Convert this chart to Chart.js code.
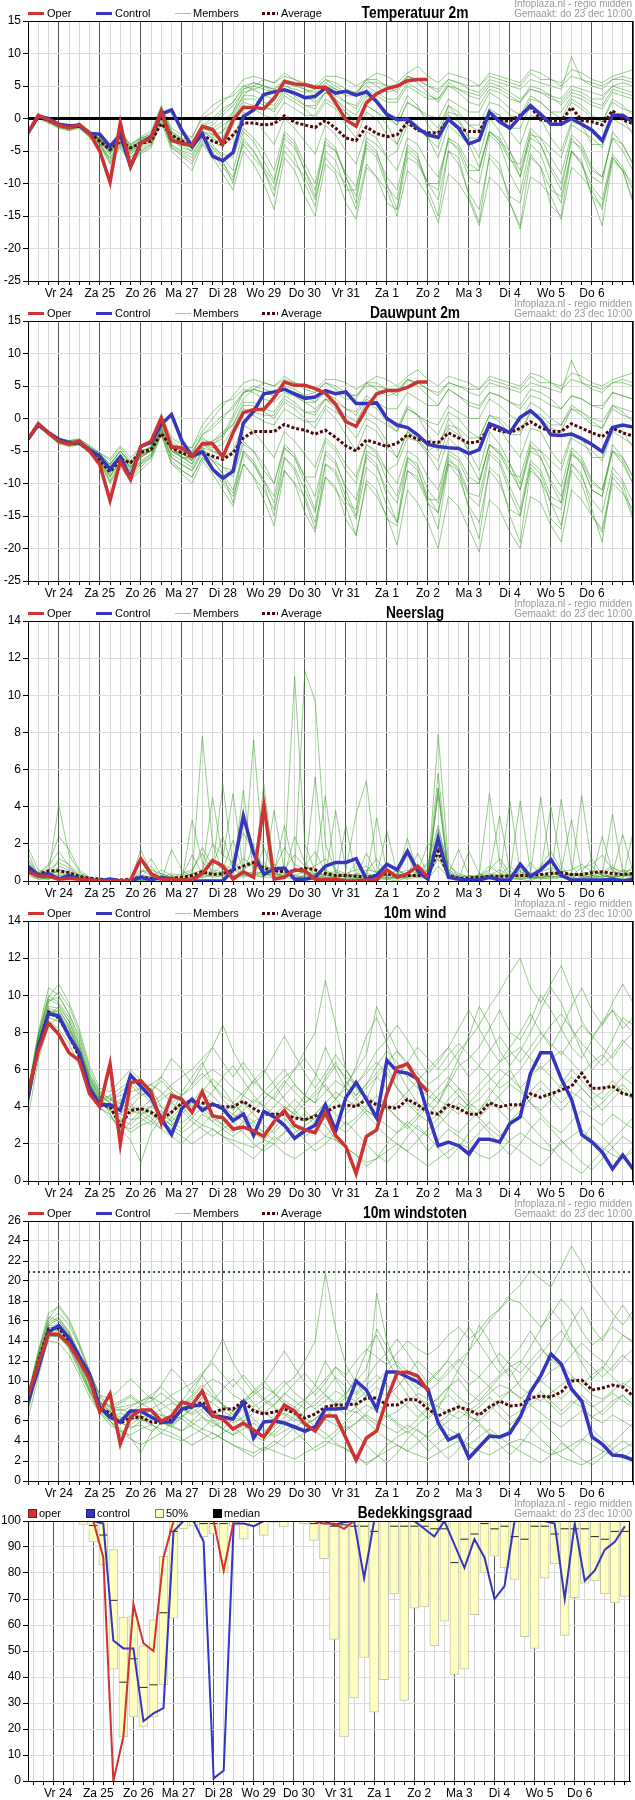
<!DOCTYPE html>
<html>
<head>
<meta charset="utf-8">
<title>Pluim</title>
<script src="https://cdn.jsdelivr.net/npm/chart.js@4.4.1/dist/chart.umd.min.js"></script>
<style>
body { margin: 0; background: #fff; font-family: "Liberation Sans", Arial, sans-serif; }
.panel { position: relative; width: 635px; height: 300px; }
.panel canvas { position: absolute; left: 0; top: 0; }
.sw { position: absolute; }
.lt { position: absolute; top: 6px; font-size: 11px; line-height: 14px; white-space: nowrap; }
.title { position: absolute; top: 5px; left: 415px; transform: translateX(-50%) scaleX(0.86); font-weight: bold; font-size: 16px; line-height: 16px; white-space: nowrap; }
.src { position: absolute; right: 3px; top: -1px; text-align: right; color: #999; font-size: 10px; line-height: 10px; white-space: nowrap; }
</style>
</head>
<body>
<div class="panel" id="p1"><canvas id="c1" width="635" height="300"></canvas></div>
<div class="panel" id="p2"><canvas id="c2" width="635" height="300"></canvas></div>
<div class="panel" id="p3"><canvas id="c3" width="635" height="300"></canvas></div>
<div class="panel" id="p4"><canvas id="c4" width="635" height="300"></canvas></div>
<div class="panel" id="p5"><canvas id="c5" width="635" height="300"></canvas></div>
<div class="panel" id="p6"><canvas id="c6" width="635" height="300"></canvas></div>

<script>
// AXIS / TIME

const dayLabels = ["Vr 24", "Za 25", "Zo 26", "Ma 27", "Di 28", "Wo 29", "Do 30", "Vr 31", "Za 1", "Zo 2", "Ma 3", "Di 4", "Wo 5", "Do 6"];
const stepH = 6;              // hours between values
const xStart = 6, xEnd = 360; // hours after do 23 dec 00:00
const cloudStart = 9, cloudEnd = 363;
const gustLimit = 20.9;

// TEMPERATUUR 2M

const tempOper = [-2.2,0.5,-0.2,-1.0, -1.4,-0.9,-2.3,-5.0, -9.8,-0.7,-7.4,-3.8, -3.0,1.1,-3.4,-3.8, -4.1,-1.2,-1.7,-3.9, -0.2,1.7,1.7,1.5, 3.1,5.7,5.3,5.2, 4.8,4.8,2.4,-0.2, -1.2,2.4,3.8,4.6, 5.0,5.8,6.0,6.0,
  null,null,null,null, null,null,null,null, null,null,null,null, null,null,null,null, null,null,null,null];
const tempControl = [-2.2,0.3,0.0,-0.9, -1.1,-1.1,-2.3,-2.4, -4.3,-2.5,-7.4,-3.8, -2.8,0.7,1.3,-1.8, -4.3,-2.4,-5.8,-6.5, -5.2,0.3,1.3,3.7, 4.1,4.4,3.9,3.2, 3.4,4.7,3.9,4.2, 3.6,4.1,2.6,0.6, -0.2,-0.1,-1.5,-2.5, -2.9,-0.1,-1.5,-3.9, -3.3,1.0,-0.5,-1.5, 0.3,2.0,0.6,-0.9, -0.9,0.0,-0.9,-1.8, -3.4,0.5,0.5,-0.6];
const tempAvg = [-2.2,0.3,-0.3,-1.0, -1.3,-1.2,-2.2,-3.5, -4.8,-3.5,-4.5,-3.8, -3.5,-0.8,-2.5,-3.5, -4.0,-2.5,-3.5,-4.0, -2.5,-0.7,-0.7,-1.0, -0.8,0.4,-0.6,-1.0, -1.4,-0.3,-1.5,-3.0, -3.4,-1.3,-2.3,-2.8, -2.5,-0.6,-1.8,-2.2, -2.2,-0.2,-1.5,-2.0, -2.0,0.8,-0.3,-0.4, 0.5,1.8,-0.2,-0.4, -0.4,1.7,-0.3,-0.5, -1.0,1.2,-0.2,-0.8];
const tempMembers = [
  [-2.0,0.6,-0.2,-0.9, -1.2,-0.8,-2.0,-3.0, -4.5,-2.0,-4.0,-3.0, -2.5,1.8,-2.0,-3.0, -3.5,-1.0,-2.5,-3.0, 0.5,3.5,5.0,6.0, 5.5,6.5,6.0,5.5, 5.0,6.5,6.5,6.0, 5.0,6.0,7.0,6.5, 5.5,7.0,8.0,6.5, 5.5,7.0,6.5,6.0, 5.0,6.5,6.0,5.5, 5.0,7.0,6.0,6.0, 5.5,7.5,7.0,6.0, 5.5,6.5,7.0,7.5],
  [-2.1,0.4,-0.1,-1.0, -1.3,-1.1,-2.2,-3.2, -5.0,-2.5,-4.5,-3.5, -3.0,1.0,-2.5,-3.5, -4.0,-1.5,-1.0,0.5, 2.0,4.0,4.5,5.0, 4.0,5.5,5.0,4.5, 4.0,5.5,4.5,4.0, 3.5,5.0,4.0,3.0, 3.0,5.5,4.5,3.5, 3.0,5.0,4.5,4.0, 3.5,5.5,5.0,4.0, 3.0,4.5,4.0,3.5, 3.0,5.0,4.5,4.0, 3.5,5.0,5.5,5.0],
  [-2.3,0.2,-0.4,-1.2, -1.5,-1.0,-2.4,-3.5, -5.5,-3.0,-5.0,-4.0, -3.0,0.5,-3.0,-4.0, -4.5,-2.0,-3.0,-2.0, 1.0,4.5,5.5,5.0, 4.5,5.5,4.0,3.5, 2.5,4.0,3.0,1.0, -1.0,2.0,1.0,-1.0, -4.0,0.0,-1.5,-3.0, -6.0,-1.0,-2.5,-4.0, -7.5,-2.0,-3.5,-5.0, -8.0,-2.5,-3.0,-4.5, -6.0,-1.0,-2.0,-3.0, -4.5,0.0,-1.0,-2.0],
  [-2.4,0.1,-0.6,-1.3, -1.8,-1.2,-2.6,-3.8, -6.0,-3.5,-6.5,-5.0, -4.0,0.0,-4.5,-5.5, -6.5,-3.5,-5.0,-7.0, -9.0,-4.0,-6.0,-8.0, -11.0,-5.0,-7.0,-9.0, -12.5,-6.0,-8.0,-10.0, -14.0,-7.0,-9.0,-11.0, -15.0,-8.0,-9.5,-12.0, -16.0,-8.5,-10.0,-12.5, -16.5,-9.0,-10.5,-13.0, -17.0,-9.0,-10.0,-12.0, -15.5,-7.5,-9.0,-11.0, -14.0,-6.0,-8.0,-10.0],
  [-2.2,0.3,-0.3,-1.1, -1.4,-0.9,-2.3,-3.4, -5.2,-3.2,-4.8,-3.2, -2.8,0.8,-3.5,-4.2, -4.2,-2.5,-3.5,-4.5, -1.0,2.0,1.5,0.5, 0.0,2.5,1.5,0.5, 0.5,3.0,2.0,1.0, -0.5,2.0,1.0,0.0, -1.0,2.5,1.5,0.5, 0.0,3.0,2.0,1.0, 1.0,4.0,3.0,1.5, 0.5,3.5,2.5,1.0, 0.0,3.0,2.0,0.5, -0.5,2.5,1.5,1.0],
  [-2.3,0.2,-0.5,-1.4, -1.6,-1.4,-2.8,-4.0, -6.5,-4.0,-6.0,-4.5, -3.5,0.5,-4.0,-5.0, -5.5,-3.0,-4.0,-6.0, -8.0,-2.0,-3.5,-6.5, -9.5,-3.0,-4.5,-8.0, -11.0,-4.0,-5.0,-9.0, -12.0,-4.5,-6.0,-10.5, -12.5,-5.0,-6.5,-10.0, -11.0,-3.0,-5.0,-9.0, -10.0,-2.5,-4.0,-8.5, -11.5,-4.0,-5.5,-10.0, -13.0,-5.0,-7.0,-12.0, -13.5,-6.0,-8.0,-12.5],
  [-2.1,0.5,-0.2,-1.0, -1.1,-1.3,-2.5,-3.6, -4.8,-2.8,-5.5,-4.2, -3.2,1.2,-3.2,-4.5, -5.0,-2.0,-3.0,-4.0, -3.0,1.0,0.0,-2.0, -4.0,0.0,-1.5,-3.5, -5.5,-1.0,-2.5,-5.0, -7.0,-2.0,-3.0,-6.0, -8.0,-3.0,-4.0,-7.0, -9.0,-3.5,-4.5,-8.0, -8.0,-2.0,-3.5,-6.5, -7.0,-1.5,-3.0,-6.0, -8.5,-2.5,-4.0,-7.5, -9.0,-3.0,-5.0,-8.0],
  [-2.2,0.4,-0.2,-0.8, -1.0,-0.7,-1.8,-2.8, -4.0,-2.2,-4.2,-2.8, -2.0,2.0,-1.5,-2.5, -2.8,0.0,1.0,2.5, 4.0,6.0,6.5,6.0, 5.5,7.0,6.0,5.0, 4.5,6.0,5.0,4.0, 4.0,5.5,5.5,5.0, 5.0,6.5,6.0,5.0, 4.5,6.0,5.5,5.0, 5.0,7.0,6.5,6.0, 5.5,7.5,7.0,6.0, 5.0,6.5,6.0,5.5, 5.0,6.0,6.0,5.5],
  [-2.3,0.3,-0.4,-1.2, -1.5,-1.2,-2.4,-3.4, -5.5,-3.0,-5.5,-3.8, -3.0,1.0,-2.8,-3.8, -4.0,-1.0,0.0,1.5, 2.5,5.0,5.5,5.0, 4.5,6.0,5.5,4.5, 3.5,5.0,4.0,2.5, 1.5,4.0,3.0,1.0, 0.0,3.5,2.0,-1.0, -3.0,2.0,0.0,-3.0, -6.0,0.0,-2.0,-5.0, -9.0,-2.0,-4.0,-8.0, -11.0,-3.0,-5.0,-9.0, -10.0,-2.0,-4.0,-7.0],
  [-2.2,0.2,-0.3,-1.0, -1.3,-1.0,-2.2,-3.3, -5.0,-3.0,-5.2,-4.0, -3.2,0.5,-3.0,-4.0, -5.0,-2.5,-4.5,-6.5, -10.0,-3.0,-5.0,-8.0, -12.0,-4.0,-6.0,-10.0, -13.5,-5.0,-6.5,-11.0, -11.0,-3.0,-4.0,-6.0, -5.0,-1.0,-1.5,-3.0, -2.0,1.0,0.5,-1.0, -1.0,2.5,2.0,0.5, 0.0,3.0,2.5,1.0, 1.0,3.5,3.0,2.0, 1.5,4.0,3.5,3.0],
  [-2.2,0.4,-0.3,-1.1, -1.4,-1.0,-2.1,-3.1, -4.6,-2.6,-4.6,-3.6, -2.6,1.4,-2.6,-3.6, -4.6,-1.5,-2.0,-1.0, 0.0,3.0,3.0,2.0, 1.0,3.5,2.5,1.5, 0.0,2.5,1.5,-1.0, -3.0,1.0,0.0,-2.5, -4.0,0.0,-1.0,-3.0, -4.5,0.5,-0.5,-3.0, -3.0,1.0,0.5,-2.0, -4.0,0.5,0.0,-3.0, -5.0,-0.5,-1.0,-4.0, -4.0,0.5,0.0,-2.5],
  [-2.0,0.5,-0.1,-0.9, -1.2,-0.9,-2.0,-3.1, -4.3,-2.0,-4.0,-3.0, -2.4,1.6,-2.0,-3.2, -3.0,0.5,2.0,3.0, 3.5,5.0,4.5,3.5, 3.0,4.5,4.0,3.0, 3.0,5.0,4.5,3.5, 3.5,6.0,6.0,5.0, 4.0,6.5,5.5,4.0, 2.5,5.0,4.0,2.5, 2.0,4.5,4.0,3.0, 2.5,5.0,4.5,3.5, 2.0,4.0,3.5,2.5, 2.0,4.5,4.0,3.5],
  [-2.1,0.5,-0.1,-0.9, -1.2,-1.0,-2.1,-3.2, -4.6,-2.4,-4.4,-3.2, -2.7,1.5,-2.4,-3.3, -3.8,-1.2,-0.5,1.0, 2.5,4.5,5.0,4.5, 4.0,5.0,4.5,4.0, 4.5,6.0,5.5,4.5, 4.0,6.0,5.0,4.0, 4.5,6.5,6.0,5.0, 4.0,6.0,5.5,4.5, 4.0,6.0,5.5,5.0, 4.5,6.0,5.5,5.0, 4.5,9.5,6.0,5.0, 4.5,6.0,6.5,6.0],
  [-2.3,0.1,-0.5,-1.2, -1.6,-1.3,-2.6,-3.9, -6.2,-3.8,-6.0,-4.8, -3.8,0.2,-4.2,-5.2, -6.0,-3.0,-4.5,-5.5, -6.0,-1.5,-3.0,-5.0, -8.0,-2.0,-3.5,-7.0, -10.0,-3.5,-5.0,-8.5, -10.5,-4.0,-5.5,-9.0, -11.0,-4.5,-6.0,-10.0, -12.5,-5.0,-7.0,-11.5, -14.0,-6.0,-8.0,-12.0, -13.0,-5.5,-7.5,-11.0, -12.0,-5.0,-7.0,-10.5, -12.5,-5.5,-7.5,-11.0],
  [-2.2,0.3,-0.2,-1.0, -1.3,-1.0,-2.2,-3.3, -4.9,-2.7,-4.9,-3.4, -2.9,1.1,-2.9,-3.9, -4.3,-2.0,-2.5,-2.0, -0.5,2.5,2.0,1.5, 1.5,4.0,3.0,2.0, 2.0,4.0,3.5,2.5, 2.0,4.5,3.5,2.5, 2.5,5.0,4.0,3.0, 3.0,5.5,4.5,3.5, 3.0,5.0,4.5,3.5, 2.5,4.5,4.0,3.0, 2.5,4.5,4.0,3.0, 3.0,5.0,4.5,4.0],
  [-2.4,0.0,-0.7,-1.5, -1.9,-1.5,-2.9,-4.2, -7.0,-4.5,-7.0,-5.5, -4.5,-0.5,-5.0,-6.5, -8.0,-4.0,-6.0,-8.5, -11.0,-5.0,-7.0,-10.0, -14.0,-6.0,-8.0,-12.0, -15.0,-7.0,-8.5,-13.0, -15.5,-7.5,-9.0,-13.0, -14.0,-6.0,-7.0,-10.0, -10.0,-3.0,-4.0,-7.0, -8.0,-2.0,-3.0,-6.0, -9.0,-3.0,-4.0,-7.5, -10.0,-3.5,-4.5,-8.0, -9.0,-3.0,-4.0,-7.0],
  [-2.1,0.4,-0.2,-1.0, -1.2,-1.1,-2.3,-3.3, -5.1,-2.9,-5.0,-3.6, -3.0,1.2,-3.0,-4.0, -4.4,-1.8,-1.5,-0.5, 1.0,3.5,3.5,2.5, 2.0,4.5,3.5,2.0, 1.5,4.0,3.0,1.5, 0.5,3.5,2.5,0.5, -1.0,2.5,1.5,0.0, -1.5,2.0,1.0,-1.0, -2.0,1.5,0.5,-1.5, -1.5,2.0,1.0,-0.5, -1.0,2.5,1.5,0.0, -0.5,3.0,2.0,0.5],
  [-2.3,0.2,-0.4,-1.3, -1.7,-1.3,-2.7,-3.9, -6.8,-4.2,-6.8,-5.2, -4.2,0.2,-4.4,-5.8, -7.0,-3.8,-5.5,-7.5, -9.5,-3.5,-5.0,-7.5, -10.0,-2.5,-4.0,-8.0, -12.0,-3.0,-4.5,-9.0, -13.0,-3.5,-5.0,-10.0, -14.0,-4.0,-5.5,-11.0, -15.0,-5.0,-6.0,-12.0, -16.0,-5.5,-7.0,-13.0, -16.5,-6.0,-7.5,-13.5, -15.0,-5.0,-6.5,-12.0, -16.5,-6.5,-8.0,-13.0]
];

// DAUWPUNT 2M

const dewOper = [-3.2,-0.8,-2.2,-3.5, -3.9,-3.5,-5.0,-7.1, -12.6,-6.6,-9.4,-4.3, -3.5,0.1,-4.4,-4.5, -5.8,-3.9,-3.9,-5.9, -2.2,0.9,1.4,1.4, 3.2,5.6,5.1,5.1, 4.6,3.9,2.2,-0.5, -1.2,1.6,3.8,4.3, 4.3,4.8,5.6,5.6,
  null,null,null,null, null,null,null,null, null,null,null,null, null,null,null,null, null,null,null,null];
const dewControl = [-3.2,-1.0,-2.2,-3.2, -3.7,-3.7,-4.8,-5.8, -7.8,-5.9,-9.1,-4.3, -3.7,-0.9,0.6,-3.4, -5.8,-5.1,-7.8,-9.2, -8.1,-0.7,1.1,3.8, 4.1,4.5,3.8,3.1, 3.3,4.3,3.8,4.1, 2.3,2.3,2.4,0.0, -1.0,-1.4,-2.5,-4.0, -4.3,-4.5,-4.6,-5.4, -4.8,-0.8,-1.4,-2.2, 0.2,1.2,-0.2,-2.5, -2.6,-2.4,-3.1,-4.0, -5.1,-1.4,-1.0,-1.3];
const dewAvg = [-3.2,-0.8,-2.2,-3.4, -3.8,-3.8,-5.0,-6.5, -8.2,-6.3,-6.8,-5.2, -4.8,-2.3,-4.5,-5.3, -5.8,-5.2,-5.8,-6.3, -5.3,-3.0,-2.0,-2.0, -2.0,-0.9,-1.5,-1.8, -2.4,-1.8,-2.9,-4.2, -5.0,-3.3,-3.8,-4.3, -3.8,-2.5,-3.2,-3.6, -3.7,-2.2,-3.0,-3.8, -3.5,-1.3,-1.9,-2.2, -1.5,-0.5,-1.4,-2.0, -2.0,-0.8,-1.5,-2.2, -2.8,-1.5,-2.2,-2.7];
const dewMembers = [
  [-3.0,-0.7,-2.0,-3.2, -3.6,-3.4,-4.5,-5.5, -7.0,-5.0,-7.0,-5.0, -4.5,-0.5,-4.0,-4.5, -5.0,-3.0,-4.0,-3.0, 0.0,3.0,4.5,5.5, 5.0,6.0,5.5,5.0, 4.5,6.0,6.0,5.5, 4.5,5.5,6.5,6.0, 5.0,6.5,7.5,6.0, 5.0,6.5,6.0,5.5, 4.5,6.0,5.5,5.0, 4.5,6.5,5.5,5.5, 5.0,7.0,6.5,5.5, 5.0,6.0,6.5,7.0],
  [-3.3,-1.0,-2.3,-3.5, -3.9,-3.7,-4.8,-6.0, -8.0,-6.0,-7.5,-5.5, -5.0,-1.5,-5.0,-6.0, -6.0,-4.0,-4.0,-2.5, 0.5,4.0,5.0,4.5, 4.0,5.0,3.5,2.5, 1.5,3.0,1.5,-1.0, -3.0,0.0,-1.0,-3.5, -6.0,-2.0,-3.5,-5.5, -8.0,-3.0,-4.5,-6.5, -9.5,-4.0,-5.5,-7.0, -10.0,-4.5,-5.0,-6.5, -8.0,-3.0,-4.0,-5.0, -6.5,-2.0,-3.0,-4.0],
  [-3.4,-1.1,-2.5,-3.6, -4.2,-4.0,-5.0,-6.3, -9.0,-6.5,-9.0,-7.0, -6.0,-2.5,-7.0,-8.0, -9.0,-6.0,-8.0,-10.0, -12.0,-7.0,-9.0,-11.0, -14.0,-8.0,-10.0,-12.0, -16.0,-9.0,-11.0,-13.5, -18.0,-10.0,-12.0,-15.0, -19.5,-11.0,-13.0,-16.0, -20.0,-12.0,-13.5,-17.0, -20.5,-12.5,-14.0,-17.5, -20.0,-12.0,-13.0,-16.5, -19.0,-11.0,-12.5,-15.0, -17.5,-10.0,-11.5,-14.0],
  [-3.3,-1.0,-2.4,-3.7, -4.0,-3.9,-5.2,-6.5, -9.5,-7.0,-8.5,-6.5, -5.5,-2.0,-6.0,-7.0, -8.0,-5.5,-6.5,-8.5, -11.0,-5.0,-6.5,-9.5, -13.0,-6.0,-7.5,-11.0, -14.5,-7.0,-8.0,-12.0, -15.5,-7.5,-9.0,-13.5, -16.0,-8.0,-9.5,-13.0, -14.5,-6.0,-8.0,-12.0, -13.5,-5.5,-7.0,-11.5, -15.0,-7.0,-8.5,-13.0, -16.5,-8.0,-10.0,-15.0, -17.0,-9.0,-11.0,-15.5],
  [-3.2,-0.8,-2.2,-3.5, -3.8,-3.5,-4.6,-5.8, -7.5,-5.5,-7.0,-5.0, -4.5,-1.0,-5.0,-5.5, -6.0,-4.5,-5.0,-5.5, -2.0,1.0,0.5,-0.5, -1.0,1.5,0.5,-0.5, -0.5,2.0,1.0,0.0, -1.5,1.0,0.0,-1.0, -2.0,1.5,0.5,-0.5, -1.0,2.0,1.0,0.0, 0.0,3.0,2.0,0.5, -0.5,2.5,1.5,0.0, -1.0,2.0,1.0,-0.5, -1.5,1.5,0.5,0.0],
  [-3.1,-0.6,-2.1,-3.4, -3.5,-3.6,-4.9,-6.2, -8.5,-6.0,-8.0,-6.0, -5.0,-0.5,-4.5,-6.0, -7.0,-4.0,-5.0,-6.0, -5.0,-1.0,-2.0,-4.0, -6.0,-2.0,-3.5,-5.5, -7.5,-3.0,-4.5,-7.0, -9.0,-4.0,-5.0,-8.0, -10.0,-5.0,-6.0,-9.0, -11.0,-5.5,-6.5,-10.0, -10.0,-4.0,-5.5,-8.5, -9.0,-3.5,-5.0,-8.0, -10.5,-4.5,-6.0,-9.5, -11.0,-5.0,-7.0,-10.0],
  [-3.0,-0.7,-1.9,-3.1, -3.4,-3.2,-4.2,-5.3, -6.5,-4.5,-6.5,-4.5, -3.5,0.5,-3.0,-4.0, -4.5,-2.0,0.0,2.0, 3.5,5.5,6.0,5.5, 5.0,6.5,5.5,4.5, 4.0,5.5,4.5,3.5, 3.5,5.0,5.0,4.5, 4.5,6.0,5.5,4.5, 4.0,5.5,5.0,4.5, 4.5,6.5,6.0,5.5, 5.0,7.0,6.5,5.5, 4.5,6.0,5.5,5.0, 4.5,5.5,5.5,5.0],
  [-3.3,-0.9,-2.3,-3.6, -3.9,-3.8,-4.9,-5.9, -8.0,-5.5,-7.5,-5.8, -4.8,-0.5,-4.0,-5.0, -5.5,-2.5,-1.0,0.5, 1.5,4.0,4.5,4.0, 3.5,5.0,4.5,3.5, 2.5,4.0,3.0,1.5, 0.5,3.0,2.0,0.0, -1.5,2.0,0.5,-2.5, -5.0,0.0,-2.0,-5.0, -8.0,-2.0,-4.0,-7.0, -11.0,-4.0,-6.0,-10.0, -13.0,-5.0,-7.0,-11.0, -12.0,-4.0,-6.0,-9.0],
  [-3.2,-1.0,-2.2,-3.3, -3.6,-3.5,-4.6,-5.7, -7.5,-5.5,-7.5,-6.0, -5.0,-1.5,-5.0,-5.8, -7.0,-4.5,-6.5,-8.5, -13.0,-5.0,-7.0,-10.0, -15.0,-6.0,-8.0,-12.5, -17.0,-7.0,-8.5,-13.0, -14.0,-5.0,-6.0,-8.0, -7.0,-3.0,-3.5,-5.0, -4.0,-1.0,-1.5,-3.0, -3.0,0.5,0.0,-1.5, -2.0,1.0,0.5,-1.0, -1.0,1.5,1.0,0.0, -0.5,2.0,1.5,1.0],
  [-3.2,-0.7,-2.1,-3.4, -3.7,-3.3,-4.4,-5.4, -7.0,-5.0,-6.8,-5.4, -4.2,-0.2,-4.2,-5.2, -6.5,-3.5,-3.5,-2.0, -1.0,2.0,2.0,1.0, 0.0,2.5,1.5,0.0, -1.5,1.5,0.0,-2.5, -5.0,-1.0,-2.0,-4.5, -6.0,-2.0,-3.0,-5.0, -6.5,-1.5,-2.5,-5.0, -5.0,-1.0,-1.5,-4.0, -6.0,-1.5,-2.0,-5.0, -7.0,-2.5,-3.0,-6.0, -6.0,-1.5,-2.0,-4.5],
  [-3.0,-0.6,-1.9,-3.0, -3.4,-3.1,-4.2,-5.3, -6.2,-4.2,-6.0,-4.4, -3.8,0.4,-3.5,-4.6, -4.5,-1.0,1.0,2.5, 3.0,4.5,4.0,3.0, 2.5,4.0,3.5,2.5, 2.5,4.5,4.0,3.0, 3.0,5.5,5.5,4.5, 3.5,6.0,5.0,3.5, 2.0,4.5,3.5,2.0, 1.5,4.0,3.5,2.5, 2.0,4.5,4.0,3.0, 1.5,3.5,3.0,2.0, 1.5,4.0,3.5,3.0],
  [-3.4,-1.0,-2.4,-3.8, -4.1,-3.9,-5.0,-6.4, -8.8,-6.5,-8.2,-6.8, -5.5,-1.5,-5.5,-6.5, -7.5,-5.0,-6.0,-7.5, -9.0,-4.0,-5.0,-8.0, -10.0,-4.5,-6.0,-9.0, -9.0,-3.5,-5.0,-8.0, -10.0,-4.0,-5.5,-9.5, -12.0,-6.0,-7.0,-11.0, -13.0,-6.5,-7.5,-11.5, -12.0,-5.0,-6.5,-10.5, -14.0,-6.5,-8.0,-12.0, -13.0,-5.5,-7.0,-11.0, -12.0,-5.0,-6.5,-10.0],
  [-3.1,-0.7,-2.0,-3.3, -3.6,-3.5,-4.5,-5.7, -7.2,-5.0,-6.8,-5.0, -4.4,0.0,-4.0,-4.9, -5.2,-2.5,-1.5,0.0, 2.0,4.0,4.5,4.0, 3.5,4.5,4.0,3.5, 4.0,5.5,5.0,4.0, 3.5,5.5,4.5,3.5, 4.0,6.0,5.5,4.5, 3.5,5.5,5.0,4.0, 3.5,5.5,5.0,4.5, 4.0,5.5,5.0,4.5, 4.0,9.0,5.5,4.5, 4.0,5.5,6.0,5.5],
  [-3.4,-1.1,-2.4,-3.7, -4.0,-3.9,-5.1,-6.4, -9.0,-6.7,-8.5,-7.0, -5.8,-1.8,-6.0,-7.2, -8.0,-5.0,-6.5,-7.5, -8.0,-3.5,-5.0,-7.0, -10.0,-4.0,-5.5,-9.0, -12.0,-5.5,-7.0,-10.5, -12.5,-6.0,-7.5,-11.0, -13.0,-6.5,-8.0,-12.0, -14.5,-7.0,-9.0,-13.5, -16.0,-8.0,-10.0,-14.0, -15.0,-7.5,-9.5,-13.0, -14.0,-7.0,-9.0,-12.5, -14.5,-7.5,-9.5,-13.0],
  [-3.2,-0.9,-2.2,-3.4, -3.7,-3.5,-4.6,-5.8, -7.8,-5.6,-7.4,-5.6, -4.8,-0.6,-4.6,-5.4, -6.3,-4.0,-4.5,-4.0, -1.5,1.5,1.0,0.5, 0.5,3.0,2.0,1.0, 1.0,3.0,2.5,1.5, 1.0,3.5,2.5,1.5, 1.5,4.0,3.0,2.0, 2.0,4.5,3.5,2.5, 2.0,4.0,3.5,2.5, 1.5,3.5,3.0,2.0, 1.5,3.5,3.0,2.0, 2.0,4.0,3.5,3.0],
  [-3.5,-1.2,-2.6,-3.9, -4.3,-4.1,-5.3,-6.7, -10.0,-7.5,-9.5,-8.0, -6.5,-2.5,-7.0,-8.5, -10.0,-6.5,-8.5,-11.0, -13.5,-7.0,-9.0,-12.5, -16.5,-8.0,-10.0,-14.5, -17.5,-9.0,-10.5,-15.5, -18.0,-9.5,-11.0,-15.5, -16.5,-8.0,-9.0,-12.5, -12.5,-5.0,-6.0,-9.0, -10.0,-4.0,-5.0,-8.0, -11.0,-5.0,-6.0,-9.5, -12.0,-5.5,-6.5,-10.0, -11.0,-5.0,-6.0,-9.0],
  [-3.1,-0.8,-2.2,-3.4, -3.6,-3.6,-4.7,-5.8, -8.1,-5.9,-7.8,-5.8, -5.0,-0.2,-5.0,-6.0, -6.4,-3.8,-3.5,-2.5, -1.0,2.5,2.5,1.5, 1.0,3.5,2.5,1.0, 0.5,3.0,2.0,0.5, -0.5,2.5,1.5,-0.5, -2.0,1.5,0.5,-1.0, -2.5,1.0,0.0,-2.0, -3.0,0.5,-0.5,-2.5, -2.5,1.0,0.0,-1.5, -2.0,1.5,0.5,-1.0, -1.5,2.0,1.0,-0.5],
  [-3.4,-1.0,-2.4,-3.8, -4.2,-3.9,-5.2,-6.6, -9.8,-7.0,-9.2,-7.5, -6.0,-2.0,-6.5,-8.0, -9.0,-6.0,-7.5,-9.5, -11.5,-5.5,-7.0,-9.5, -12.0,-4.5,-6.0,-10.0, -14.0,-5.0,-6.5,-11.0, -15.0,-5.5,-7.0,-12.0, -16.0,-6.0,-7.5,-13.0, -17.0,-7.0,-8.0,-14.0, -18.5,-7.5,-9.0,-15.0, -19.0,-8.0,-9.5,-15.5, -17.0,-7.0,-8.5,-14.0, -19.0,-8.5,-10.0,-15.0]
];

// NEERSLAG

const rainOper = [0.5,0.25,0.25,0.1, 0.15,0.1,0.05,0, 0,0,0.05,1.2, 0.4,0.1,0.1,0.05, 0.05,0.4,1.1,0.8, 0.1,0.5,0.2,4.1, 0.1,0.2,0.6,0.55, 0.1,0.1,0.1,0, 0,0.05,0.05,0.6, 0.2,0.4,0.8,0.2,
  null,null,null,null, null,null,null,null, null,null,null,null, null,null,null,null, null,null,null,null];
const rainControl = [0.8,0.3,0.4,0.1, 0.3,0.1,0.05,0, 0.1,0,0,0.2, 0.05,0.2,0.1,0, 0,0,0,0, 0.6,3.5,1.5,0.35, 0.65,0.7,0.1,0.1, 0.2,0.8,1.0,1.0, 1.2,0.1,0.3,0.9, 0.6,1.6,0.55,0.1, 2.3,0.2,0.1,0.05, 0.05,0.2,0.05,0.05, 0.9,0.25,0.6,1.15, 0.3,0.05,0.05,0.05, 0.05,0.1,0,0.1];
const rainAvg = [0.6,0.35,0.55,0.55, 0.45,0.25,0.15,0.1, 0.05,0.05,0.1,0.2, 0.15,0.15,0.15,0.2, 0.3,0.5,0.35,0.4, 0.6,0.8,1.0,0.7, 0.55,0.5,0.55,0.7, 0.6,0.4,0.3,0.3, 0.25,0.2,0.3,0.4, 0.25,0.3,0.3,0.3, 1.6,0.3,0.15,0.15, 0.2,0.25,0.25,0.25, 0.3,0.3,0.35,0.4, 0.45,0.35,0.35,0.45, 0.5,0.4,0.35,0.4];
const rainMembers = [
  [1.8,0.6,0.4,4.1, 1.4,0.5,0.1,0.0, 0.0,0.0,0.0,0.1, 0.3,0.1,0.0,0.0, 0.3,7.8,2.0,0.5, 0.2,0.6,1.0,0.4, 0.3,0.8,11.0,2.0, 0.5,0.2,0.1,0.0, 0.1,0.5,1.2,0.3, 0.2,0.4,0.8,0.2, 7.9,1.0,0.2,0.0, 0.1,0.4,0.3,0.2, 0.1,0.3,0.6,4.0, 0.8,0.2,0.1,0.3, 0.5,0.8,0.3,0.2],
  [1.2,0.4,0.9,2.4, 1.7,0.6,0.2,0.0, 0.0,0.0,0.0,1.7, 0.4,0.2,0.1,0.0, 3.3,1.0,0.6,5.2, 0.8,0.3,7.6,1.0, 0.4,0.3,0.5,11.3, 9.7,2.0,0.5,0.3, 0.2,1.5,0.4,0.1, 0.0,0.2,0.5,1.0, 2.0,0.3,0.1,0.1, 0.3,4.7,1.0,0.2, 0.1,0.0,0.3,0.5, 0.2,0.3,4.6,0.8, 0.3,0.2,0.6,0.4],
  [0.9,0.3,0.2,0.8, 0.6,0.3,0.1,0.0, 0.0,0.0,0.1,0.3, 0.2,0.0,1.7,0.6, 0.2,0.5,4.5,1.2, 4.7,0.5,0.2,0.6, 0.5,3.0,0.6,0.4, 0.3,0.2,3.8,0.6, 3.6,5.4,0.8,0.2, 0.1,0.3,0.2,0.6, 4.6,0.5,0.2,0.3, 0.2,0.5,3.5,0.5, 0.4,0.1,0.2,0.3, 0.6,3.3,0.5,0.3, 0.2,0.4,2.5,0.5],
  [0.6,0.2,0.1,1.2, 0.9,0.4,0.2,0.1, 0.0,0.0,0.0,0.2, 0.8,0.1,0.0,0.2, 0.4,0.3,0.6,0.5, 0.3,4.9,0.4,0.2, 3.8,0.6,0.2,0.3, 0.6,4.6,0.3,0.2, 0.4,0.2,3.4,0.5, 0.3,2.3,0.5,2.0, 1.8,0.4,1.7,0.3, 0.2,0.3,0.2,4.3, 0.5,0.2,0.1,0.3, 4.4,0.8,0.2,0.1, 0.3,3.6,0.5,0.2],
  [0.4,0.1,0.1,0.3, 0.2,0.1,0.0,0.0, 0.0,0.0,0.0,0.1, 0.1,0.4,0.2,0.1, 0.1,0.2,0.4,0.9, 0.6,0.3,0.2,5.2, 0.6,0.2,0.1,0.3, 0.2,0.3,0.1,3.0, 0.2,0.1,0.3,2.7, 0.4,0.2,0.3,0.1, 1.4,0.3,0.1,1.6, 0.4,0.1,0.2,0.4, 4.3,0.5,0.1,0.2, 0.2,0.1,0.5,1.2, 0.3,0.2,0.1,2.6],
  [1.5,0.3,0.4,0.5, 0.3,0.2,0.0,0.0, 0.0,0.0,0.0,0.4, 1.2,0.3,0.1,0.4, 0.6,1.5,0.4,0.3, 1.1,0.4,2.0,0.4, 0.2,0.5,0.3,0.2, 0.4,0.6,0.3,0.2, 0.1,0.4,0.3,0.2, 0.6,0.3,1.5,0.4, 5.8,0.5,0.2,0.1, 0.4,0.2,0.3,0.8, 0.3,0.4,4.5,0.6, 0.2,0.4,0.3,0.2, 2.4,0.5,0.3,0.4],
  [0.5,0.2,0.1,0.3, 0.2,0.1,0.1,0.0, 0.0,0.0,0.0,0.0, 0.2,0.0,0.3,0.2, 1.4,0.4,0.2,0.3, 0.2,0.3,0.5,0.3, 0.4,0.2,0.6,0.4, 5.6,0.4,0.2,0.1, 0.2,0.3,0.2,0.1, 0.3,0.2,0.4,0.2, 5.0,0.2,0.1,0.0, 0.1,0.3,0.2,0.3, 0.2,0.1,0.4,0.2, 0.3,0.2,0.4,0.3, 0.2,0.3,0.2,0.5],
  [0.7,0.5,0.3,0.6, 0.5,0.2,0.1,0.0, 0.0,0.1,0.0,0.0, 0.1,0.2,0.0,0.1, 0.2,0.3,0.5,0.4, 0.3,0.2,0.4,0.5, 0.6,0.4,0.3,0.5, 0.4,0.3,0.2,0.3, 0.3,0.2,0.2,0.2, 0.2,0.2,0.3,0.3, 1.2,0.3,0.2,0.1, 0.2,0.2,0.1,0.2, 0.3,0.2,0.2,0.3, 0.4,0.3,0.3,0.2, 0.4,0.2,0.3,0.3],
  [0.9,0.4,0.6,1.0, 0.7,0.3,0.1,0.0, 0.0,0.0,0.1,0.6, 0.3,0.2,0.4,0.3, 0.5,1.8,0.8,2.4, 0.6,1.2,0.8,0.5, 0.9,0.6,1.4,0.8, 1.6,0.5,0.3,0.4, 0.3,0.6,0.5,0.3, 0.4,0.6,0.4,0.9, 3.0,0.6,0.3,0.2, 0.3,0.8,0.4,0.3, 0.6,0.4,0.5,0.7, 0.5,0.6,0.9,0.5, 0.4,0.7,0.5,0.6],
  [1.1,0.3,0.2,0.6, 0.4,0.2,0.1,0.0, 0.0,0.0,0.0,0.3, 0.2,0.6,0.3,0.1, 0.2,0.4,1.2,0.6, 2.2,0.5,0.4,1.8, 0.4,0.3,2.4,1.0, 0.3,0.4,0.5,0.2, 1.0,0.3,0.2,0.5, 0.3,1.4,0.3,0.2, 5.0,0.4,0.2,0.1, 0.2,0.3,0.6,0.3, 0.2,1.0,0.3,0.2, 0.3,0.4,0.2,0.6, 0.3,0.2,0.4,0.3],
  [0.3,0.1,0.2,0.4, 0.3,0.1,0.0,0.0, 0.0,0.0,0.0,0.0, 0.1,0.1,0.1,0.1, 0.2,0.2,0.3,0.2, 0.3,0.4,0.3,0.2, 0.2,0.3,0.2,0.2, 0.2,0.1,0.2,0.1, 0.1,0.2,0.1,0.1, 0.2,0.1,0.2,0.1, 0.8,0.2,0.1,0.1, 0.1,0.2,0.1,0.1, 0.1,0.2,0.2,0.1, 0.2,0.1,0.2,0.2, 0.1,0.2,0.1,0.2],
  [0.6,0.4,0.8,1.6, 0.8,0.3,0.1,0.0, 0.0,0.0,0.0,0.5, 0.6,0.4,0.2,0.1, 0.4,0.6,2.0,1.4, 1.0,2.6,1.6,0.8, 0.6,1.8,0.9,0.6, 0.8,1.2,0.6,0.4, 0.6,0.8,0.4,0.3, 0.6,0.3,0.8,0.5, 2.8,0.8,0.4,0.2, 0.3,0.6,1.2,0.4, 0.5,0.3,0.8,1.6, 0.6,0.3,0.7,0.9, 1.4,0.6,0.3,0.8]
];

// 10M WIND

const windOper = [4.8,7.0,8.5,7.9, 6.9,6.5,4.7,4.0, 6.3,2.0,5.3,5.4, 4.8,3.1,4.6,4.4, 3.7,4.8,3.5,3.4, 2.8,2.9,2.7,2.4, 3.2,3.8,3.0,2.75, 2.6,3.7,2.45,1.85, 0.4,2.4,2.75,4.7, 6.1,6.3,5.4,4.8,
  null,null,null,null, null,null,null,null, null,null,null,null, null,null,null,null, null,null,null,null];
const windControl = [4.5,7.2,9.0,8.9, 7.8,6.9,5.0,4.1, 4.1,3.8,5.7,5.1, 4.5,3.35,2.5,3.9, 4.4,3.8,4.15,3.9, 3.25,3.6,2.45,3.75, 3.45,3.0,2.3,2.7, 3.0,4.1,2.7,4.5, 5.3,4.4,3.4,6.5, 5.9,5.8,5.5,3.6, 1.9,2.1,1.9,1.45, 2.25,2.25,2.1,3.1, 3.45,5.8,6.9,6.9, 5.5,4.4,2.5,2.1, 1.55,0.65,1.4,0.65];
const windAvg = [4.6,7.2,9.1,8.8, 7.8,6.7,5.0,4.1, 4.0,3.0,3.8,3.9, 3.7,3.3,3.7,4.2, 4.3,4.2,4.1,4.0, 4.0,4.3,3.9,3.6, 3.6,3.6,3.4,3.3, 3.5,3.7,4.0,4.1, 4.0,4.4,4.1,4.0, 3.9,4.4,4.1,3.7, 3.6,4.1,3.9,3.6, 3.6,4.2,4.0,4.1, 4.1,4.7,4.5,4.7, 4.9,5.1,5.8,5.0, 5.0,5.1,4.7,4.6];
const windMembers = [
  [4.8,7.8,9.8,9.5, 8.6,7.2,5.5,4.6, 4.2,4.0,3.6,3.9, 4.4,4.0,3.4,3.1, 3.6,4.8,5.5,5.0, 4.2,3.6,3.2,3.5, 4.0,4.6,5.2,4.6, 4.2,5.6,6.4,5.4, 4.6,5.2,6.2,7.0, 6.4,5.6,5.0,4.6, 4.2,5.2,6.2,6.6, 7.2,8.2,9.2,8.0, 7.6,8.6,10.0,9.2, 8.2,7.2,6.6,7.6, 8.6,9.2,8.2,8.8],
  [4.2,7.0,8.8,8.6, 7.8,6.6,5.0,4.2, 3.8,3.2,2.6,3.0, 3.2,2.8,2.4,2.0, 2.6,3.0,2.8,2.4, 2.2,2.0,1.8,2.2, 2.0,1.5,1.2,1.6, 2.0,2.4,2.2,1.8, 1.4,1.0,1.2,1.6, 2.0,1.6,1.2,0.8, 1.2,1.6,2.0,1.8, 1.4,1.2,1.6,2.2, 2.6,2.2,1.8,1.6, 2.0,2.4,2.8,2.2, 1.8,1.4,1.2,1.6],
  [4.6,7.6,9.2,9.0, 8.0,6.8,5.2,4.4, 4.0,4.2,3.8,3.6, 3.8,3.4,3.0,3.6, 4.2,5.0,4.6,4.0, 3.6,3.2,3.8,4.4, 5.0,5.6,6.0,7.0, 8.0,10.8,8.4,6.0, 5.0,4.4,5.6,6.2, 5.0,4.2,3.6,3.2, 3.6,4.4,5.0,4.2, 3.8,4.6,5.4,6.0, 5.0,4.2,3.8,4.4, 5.2,6.0,5.4,4.8, 4.4,5.0,5.6,5.2],
  [3.4,6.5,8.4,8.8, 8.2,7.0,5.6,4.6, 3.6,2.8,2.2,1.0, 2.6,3.4,3.0,2.6, 3.0,3.6,3.2,2.8, 2.4,2.8,3.2,2.6, 2.2,2.6,3.0,2.4, 2.8,3.4,3.0,2.6, 3.2,3.8,3.4,3.0, 2.6,3.2,2.8,2.4, 3.0,3.6,4.2,3.8, 3.4,4.0,4.6,5.2, 4.8,4.2,3.6,3.0, 2.6,3.2,3.8,3.4, 3.0,3.6,3.2,2.8],
  [4.4,7.4,9.6,10.2, 9.4,8.0,6.0,4.8, 4.4,4.6,4.8,5.0, 5.2,4.8,4.2,4.6, 5.0,5.6,6.0,5.6, 5.0,4.6,4.2,4.8, 5.4,6.0,5.2,4.6, 4.2,4.8,5.4,5.0, 4.6,5.2,5.8,6.4, 7.0,6.4,5.8,5.2, 5.6,6.2,7.0,7.6, 8.4,9.4,10.2,11.2, 12.0,10.4,9.6,10.6, 11.6,10.2,8.6,7.8, 8.4,9.2,8.6,8.0],
  [4.0,7.2,8.6,8.2, 7.4,6.2,4.8,4.0, 3.4,3.0,2.8,3.2, 3.6,3.2,2.8,2.4, 2.0,2.4,2.8,2.4, 2.0,1.6,1.2,1.8, 2.4,2.0,2.6,3.0, 3.4,3.0,2.2,1.8, 1.4,0.8,1.2,2.0, 2.6,3.0,2.4,1.6, 2.2,2.8,2.4,2.0, 2.6,3.2,2.6,2.0, 1.6,1.2,0.8,1.4, 2.2,1.6,1.0,0.6, 1.2,1.8,2.4,2.0],
  [4.7,7.9,10.0,9.6, 8.8,7.4,5.4,4.2, 4.6,5.0,5.4,4.8, 4.2,4.6,5.2,5.6, 6.0,6.6,7.2,6.4, 5.6,6.4,5.6,4.8, 4.4,5.2,6.0,6.6, 5.8,5.0,4.4,5.2, 6.0,6.8,9.4,8.2, 7.0,6.2,5.4,6.0, 6.6,7.2,6.4,5.6, 6.2,7.0,7.8,7.0, 6.4,7.2,8.0,7.4, 6.8,7.6,8.4,7.8, 7.2,6.6,7.4,8.0],
  [4.5,7.5,9.0,9.2, 8.4,7.0,5.2,4.4, 4.0,4.4,4.0,3.8, 4.0,4.4,4.8,4.4, 4.0,4.6,4.2,3.8, 3.4,3.8,4.4,4.0, 3.6,4.0,3.6,3.2, 3.6,4.2,4.8,4.4, 4.0,4.6,4.2,3.8, 4.2,4.8,5.4,5.0, 4.4,4.0,3.6,4.2, 4.8,5.4,6.0,5.6, 5.0,5.6,6.2,5.6, 5.0,5.6,5.0,4.4, 4.8,5.4,4.8,4.4],
  [4.3,7.3,9.3,9.1, 8.2,6.9,5.3,4.3, 3.9,3.6,3.3,3.4, 3.0,3.6,4.2,3.8, 3.2,2.8,2.4,2.8, 3.2,2.6,2.0,1.6, 2.0,2.6,3.2,3.6, 3.0,2.4,3.0,3.6, 4.2,3.6,3.0,2.4, 2.0,1.6,2.2,2.8, 3.4,4.0,4.6,4.0, 3.4,2.8,2.4,3.0, 3.6,3.0,2.4,1.8, 1.2,0.8,0.4,1.0, 1.6,2.2,2.8,3.4],
  [4.6,7.7,9.4,9.3, 8.3,7.1,5.4,4.5, 4.3,4.8,5.2,4.6, 4.8,5.4,4.8,4.2, 3.8,4.2,4.8,5.6, 6.2,5.4,4.6,4.0, 4.6,5.4,4.8,4.2, 4.6,5.2,4.4,3.8, 4.4,5.0,5.6,5.0, 5.6,6.4,7.2,6.6, 6.0,6.8,7.4,6.8, 6.2,5.6,5.0,5.4, 6.0,6.8,7.6,8.4, 9.0,8.2,7.4,6.8, 6.2,6.8,7.6,7.0],
  [4.1,7.1,8.9,9.4, 8.6,7.3,5.7,4.7, 4.2,3.4,3.0,3.6, 4.0,3.6,3.2,3.8, 4.4,3.8,3.2,3.6, 4.2,3.6,3.0,2.6, 3.2,3.8,4.4,3.8, 3.2,3.8,4.4,5.0, 4.4,3.8,3.4,4.0, 3.4,2.8,3.4,4.0, 4.6,5.2,4.6,4.0, 4.4,5.0,4.4,3.8, 4.2,4.8,5.4,4.8, 4.2,4.8,4.4,3.8, 4.2,4.8,5.2,4.6],
  [4.9,8.0,10.4,10.0, 9.0,7.8,5.8,4.8, 4.4,4.2,4.4,4.8, 5.2,5.6,5.0,4.6, 5.2,5.8,5.2,4.6, 4.2,4.8,5.4,4.8, 4.4,4.0,3.6,4.2, 4.8,5.4,6.2,5.6, 5.2,5.8,6.4,5.8, 5.0,4.4,3.8,4.4, 5.0,5.6,5.0,4.6, 5.2,5.8,6.4,6.8, 7.2,6.6,6.0,6.6, 7.0,6.4,5.8,6.4, 6.8,6.2,5.6,6.2],
  [4.4,7.6,9.7,9.9, 9.0,7.6,5.6,4.4, 4.6,3.2,4.0,4.6, 5.0,4.0,3.6,4.8, 5.6,6.4,5.2,4.4, 3.8,4.6,5.4,6.0, 5.2,4.4,3.8,4.6, 5.6,7.2,6.0,5.0, 6.2,7.8,8.8,7.4, 6.0,5.0,4.2,3.6, 4.2,5.4,6.6,7.8, 9.4,8.4,7.0,6.2, 7.0,8.0,9.2,10.4, 9.6,8.2,7.0,6.0, 6.6,7.6,8.8,8.4],
  [4.2,7.4,9.1,8.9, 8.0,6.6,4.9,3.9, 3.6,2.6,3.2,3.8, 3.4,2.8,3.4,4.0, 3.4,3.0,3.6,3.0, 2.6,3.2,2.6,2.2, 2.8,3.4,2.8,2.2, 1.6,2.0,2.6,3.2, 2.6,2.0,1.4,1.0, 1.6,2.4,3.0,2.4, 1.8,1.2,1.8,2.6, 3.2,2.6,2.0,1.4, 2.0,2.8,3.4,2.8, 2.2,1.6,2.2,3.0, 2.4,1.8,1.2,1.8],
  [4.6,7.8,9.9,10.6, 9.6,8.2,6.2,5.0, 4.8,5.4,6.0,5.4, 4.8,5.6,6.6,6.0, 5.2,6.2,7.2,8.4, 7.0,6.0,5.2,5.8, 6.8,7.8,6.8,5.8, 5.0,5.8,6.8,6.0, 5.2,6.0,7.0,7.6, 8.4,7.6,6.6,5.8, 6.4,7.2,8.2,9.2, 8.2,7.2,6.4,7.2, 8.0,9.0,8.0,7.2, 8.2,9.4,10.4,9.2, 8.4,9.6,10.6,9.6],
  [4.3,7.2,9.0,8.7, 7.9,6.7,5.1,4.2, 3.8,3.6,4.2,3.6, 3.2,3.8,3.2,2.8, 3.4,4.0,3.4,3.0, 3.6,4.2,3.6,3.0, 2.6,3.2,3.8,3.2, 3.6,4.2,3.6,3.0, 3.4,4.0,4.6,4.0, 3.4,3.0,3.6,4.2, 3.6,3.0,2.6,3.2, 3.8,4.4,3.8,3.2, 3.8,4.4,5.0,4.4, 3.8,4.4,5.0,4.4, 3.8,4.4,5.0,4.4]
];

// 10M WINDSTOTEN

const gustOper = [8.5,11.7,14.7,14.65, 13.7,12.0,10.2,6.9, 8.7,3.7,6.4,7.1, 7.1,6.0,6.5,7.9, 7.6,9.0,6.5,6.2, 5.2,5.8,5.1,4.4, 5.9,7.6,7.0,5.7, 5.0,6.5,6.5,4.3, 2.1,4.3,5.0,8.2, 10.8,10.9,10.5,9.0,
  null,null,null,null, null,null,null,null, null,null,null,null, null,null,null,null, null,null,null,null];
const gustControl = [7.9,11.2,14.9,15.55, 14.3,12.5,10.7,7.4, 6.4,5.9,7.0,7.0, 6.4,5.9,5.9,7.2, 7.5,7.6,6.5,6.4, 6.2,7.9,4.3,5.9, 6.0,5.8,5.4,5.0, 5.4,7.2,7.2,7.3, 10.0,9.1,7.2,10.9, 10.9,10.4,9.9,9.2, 5.8,4.1,4.6,2.3, 3.4,4.5,4.4,4.8, 6.4,8.9,10.5,12.7, 11.7,9.2,8.0,4.4, 3.7,2.6,2.5,2.1];
const gustAvg = [8.3,12.0,15.2,15.3, 14.0,12.3,10.3,7.3, 6.8,5.8,6.3,6.4, 5.9,5.8,6.1,7.1, 7.4,7.9,6.8,7.2, 7.2,8.0,7.0,6.7, 6.9,7.2,6.8,6.3, 6.7,7.4,7.6,7.6, 7.7,8.3,8.3,7.6, 7.6,8.2,8.1,7.2, 6.5,7.0,7.4,7.1, 6.6,7.4,8.0,7.5, 7.6,8.3,8.5,8.4, 8.9,10.0,10.1,9.1, 9.3,9.6,9.4,8.5];
const gustMembers = [
  [8.0,12.0,15.8,16.4, 14.8,12.6,10.2,8.0, 6.8,6.4,6.0,6.6, 7.0,6.6,6.2,7.4, 8.2,9.0,8.4,7.6, 7.0,7.8,8.6,9.4, 8.8,8.0,7.4,8.2, 9.0,10.2,11.4,10.6, 12.0,13.2,12.4,11.6, 12.8,14.0,13.2,12.6, 13.4,14.6,15.4,14.2, 15.0,16.4,17.2,18.6, 19.6,21.0,20.2,19.4, 21.4,23.5,21.8,19.6, 18.2,16.8,15.6,17.0],
  [7.6,11.4,14.4,14.6, 13.2,11.0,9.0,7.2, 6.0,5.0,4.2,3.6, 4.2,4.8,4.4,4.0, 4.6,5.2,4.8,4.2, 3.6,3.2,2.8,3.4, 3.0,2.6,2.2,2.8, 3.4,4.0,3.6,3.2, 2.4,1.8,2.4,3.0, 3.6,3.0,2.6,2.2, 2.8,3.4,4.0,3.4, 3.0,2.6,3.2,3.8, 4.2,3.8,3.2,2.6, 3.0,3.6,4.2,3.6, 3.0,2.6,3.2,3.8],
  [8.2,12.2,15.4,15.0, 13.8,11.8,9.6,7.4, 6.4,6.8,6.4,6.0, 6.2,5.8,5.6,6.4, 7.2,8.4,7.8,7.0, 6.4,6.0,6.8,7.6, 8.4,9.6,10.4,12.0, 14.0,20.8,15.2,11.6, 9.8,8.4,18.8,14.0, 11.4,9.8,8.4,7.6, 8.2,9.4,10.2,8.8, 8.0,9.2,10.4,11.2, 9.4,8.6,8.0,8.8, 9.6,10.4,9.6,8.6, 8.2,9.0,9.8,9.2],
  [6.2,10.4,14.2,15.2, 14.0,12.0,10.0,7.6, 6.0,5.2,4.4,2.8, 4.8,5.8,5.4,5.0, 5.6,6.4,5.8,5.2, 4.6,5.2,5.8,5.0, 4.4,5.0,5.6,4.8, 5.4,6.2,5.6,5.0, 5.8,6.6,6.0,5.4, 4.8,5.6,5.0,4.4, 5.2,6.0,7.0,6.4, 6.0,7.0,8.0,9.0, 8.4,7.6,6.8,6.0, 5.4,6.2,7.0,6.4, 5.8,6.6,6.0,5.4],
  [8.4,12.6,16.0,16.8, 15.6,13.4,10.8,8.4, 7.2,7.4,7.6,8.0, 8.4,7.8,7.0,7.6, 8.4,9.4,10.2,9.6, 8.6,8.0,7.4,8.2, 9.0,10.0,8.8,8.0, 7.2,8.0,9.0,8.4, 8.0,9.0,10.0,11.0, 12.0,11.0,10.0,9.0, 9.8,10.8,12.0,13.0, 14.4,16.0,17.2,18.2, 17.8,16.6,15.4,16.6, 18.2,17.0,15.0,13.6, 14.4,15.4,14.6,13.8],
  [7.4,11.2,14.0,13.8, 12.6,10.6,8.4,6.8, 5.6,5.0,4.6,5.2, 5.6,5.2,4.8,4.2, 3.6,4.2,4.8,4.2, 3.6,3.0,2.4,3.2, 4.0,3.4,4.2,4.8, 5.4,4.8,3.8,3.2, 2.6,1.6,2.4,3.6, 4.4,5.0,4.2,3.0, 3.8,4.6,4.2,3.6, 4.4,5.2,4.4,3.6, 3.0,2.4,1.8,2.6, 3.8,3.0,2.2,1.6, 2.4,3.2,4.0,3.4],
  [8.6,12.8,16.4,16.0, 14.6,12.4,9.6,7.8, 7.4,8.0,8.6,7.8, 7.2,7.8,8.6,9.2, 9.8,10.8,11.8,10.6, 9.4,10.6,9.4,8.2, 7.6,8.6,9.8,10.8, 9.6,8.6,7.8,8.8, 10.0,11.2,15.2,13.4, 11.6,10.4,9.2,10.0, 11.0,12.0,10.8,9.6, 10.4,11.6,12.8,11.6, 10.8,12.0,13.2,12.2, 11.4,12.6,13.8,12.8, 12.0,11.0,12.2,13.2],
  [7.8,11.8,14.8,15.2, 14.0,11.8,9.2,7.6, 6.8,7.2,6.8,6.4, 6.6,7.2,7.8,7.2, 6.8,7.6,7.0,6.4, 5.8,6.4,7.2,6.8, 6.2,6.8,6.2,5.6, 6.2,7.0,7.8,7.2, 6.8,7.6,7.0,6.4, 7.0,7.8,8.8,8.2, 7.4,6.8,6.2,7.0, 7.8,8.8,9.6,9.2, 8.2,9.2,10.0,9.2, 8.2,9.2,8.2,7.4, 8.0,8.8,8.0,7.4],
  [7.2,11.0,14.6,14.4, 13.4,11.4,9.0,7.0, 6.2,5.8,5.4,5.6, 5.0,5.8,6.6,6.2, 5.4,4.8,4.2,4.8, 5.4,4.6,3.6,3.0, 3.6,4.4,5.4,6.0, 5.0,4.2,5.0,6.0, 7.0,6.0,5.0,4.2, 3.6,3.0,3.8,4.8, 5.8,6.6,7.6,6.6, 5.8,4.8,4.2,5.2, 6.0,5.2,4.2,3.2, 2.4,2.0,1.6,2.2, 2.8,3.8,4.8,5.8],
  [8.1,12.4,15.6,15.4, 14.2,12.2,9.8,7.8, 7.0,7.8,8.4,7.6, 8.0,8.8,8.0,7.2, 6.6,7.2,8.0,9.2, 10.2,9.0,7.8,6.8, 7.6,8.8,8.0,7.2, 7.6,8.6,7.4,6.6, 7.4,8.4,9.4,8.4, 9.4,10.6,12.0,11.0, 10.0,11.2,12.2,11.2, 10.4,9.4,8.4,9.0, 10.0,11.4,12.6,14.0, 15.0,13.6,12.4,11.4, 10.4,11.4,12.6,11.6],
  [7.0,11.2,14.8,16.0, 14.8,12.6,10.2,8.0, 7.0,6.0,5.2,6.0, 6.6,6.0,5.4,6.4, 7.4,6.4,5.4,6.0, 7.0,6.0,5.0,4.4, 5.4,6.4,7.4,6.4, 5.4,6.4,7.4,8.4, 7.4,6.4,5.6,6.6, 5.6,4.8,5.6,6.6, 7.6,8.6,7.6,6.6, 7.4,8.4,7.4,6.4, 7.0,8.0,9.0,8.0, 7.0,8.0,7.4,6.4, 7.0,8.0,8.6,7.6],
  [8.8,13.0,16.8,17.4, 16.0,13.6,11.0,8.6, 7.4,7.0,7.4,8.0, 8.6,9.4,8.4,7.6, 8.6,9.6,8.6,7.6, 7.0,8.0,9.0,8.0, 7.4,6.6,6.0,7.0, 8.0,9.0,10.4,9.4, 8.6,9.6,10.6,9.6, 8.4,7.4,6.4,7.4, 8.4,9.4,8.4,7.6, 8.6,9.6,10.6,11.4, 12.0,11.0,10.0,11.0, 11.6,10.6,9.6,10.6, 11.4,10.4,9.4,10.4],
  [8.0,12.2,15.6,16.2, 15.0,12.8,10.4,7.8, 7.6,5.6,6.8,7.6, 8.4,6.8,6.0,8.0, 9.4,10.6,9.0,7.6, 6.6,7.8,9.0,10.0, 8.8,7.6,6.6,8.0, 9.6,12.0,10.2,8.6, 10.4,13.0,14.6,12.4, 10.2,8.6,7.2,6.2, 7.2,9.2,11.2,13.0, 15.6,14.0,11.8,10.4, 11.8,13.4,15.2,17.2, 16.0,13.8,11.8,10.2, 11.2,12.8,14.6,14.0],
  [7.6,11.6,14.6,14.4, 13.4,11.2,8.8,6.8, 6.0,4.6,5.6,6.4, 5.8,4.8,5.8,6.6, 5.8,5.2,6.2,5.2, 4.6,5.6,4.6,4.0, 5.0,6.0,5.0,4.0, 3.0,3.6,4.6,5.6, 4.6,3.6,2.6,1.8, 2.8,4.2,5.2,4.2, 3.2,2.2,3.2,4.6, 5.6,4.6,3.6,2.6, 3.6,5.0,6.0,5.0, 4.0,3.0,4.0,5.2, 4.2,3.2,2.2,3.2],
  [8.2,12.8,16.2,17.6, 16.2,13.8,11.0,8.6, 8.2,9.2,10.2,9.2, 8.2,9.6,11.2,10.2, 8.8,10.6,12.2,14.2, 11.8,10.2,8.8,9.8, 11.4,13.0,11.4,9.8, 8.6,9.8,11.4,10.2, 8.8,10.2,11.8,12.8, 14.2,12.8,11.2,9.8, 10.8,12.2,13.8,15.4, 13.8,12.2,10.8,12.2, 13.4,15.0,13.4,12.0, 13.8,15.8,17.4,15.4, 14.0,16.0,17.6,16.0],
  [7.8,11.6,14.8,14.8, 13.6,11.6,9.2,7.2, 6.6,6.2,7.2,6.2, 5.6,6.6,5.6,5.0, 6.0,7.0,6.0,5.2, 6.2,7.2,6.2,5.2, 4.6,5.6,6.6,5.6, 6.2,7.2,6.2,5.2, 5.8,6.8,7.8,6.8, 5.8,5.2,6.2,7.2, 6.2,5.2,4.6,5.6, 6.6,7.6,6.6,5.6, 6.6,7.6,8.6,7.6, 6.6,7.6,8.6,7.6, 6.6,7.6,8.6,7.6]
];

// BEDEKKINGSGRAAD

const cloudOper = [100,100,100,100, 100,100,100,86, 0,17,68,53, 50,86,100,100, 100,100,100,81, 100,100,100,100, 100,100,100,100, 100,99,99,97, 100,100,100,100, 100,100,100,null,
  null,null,null,null, null,null,null,null, null,null,null,null, null,null,null,null, null,null,null,null];
const cloudControl = [100,100,100,100, 100,100,100,99, 54,51,51,23, 26,28,96,100, 100,92,1,4, 99,99,98,100, 100,100,100,100, 100,100,98.5,99.5, 100,78,100,100, 100,100,100,97, 94,100,91,82, 93,86,70,75, 100,100,100,100, 99,70,99,77, 81,89,92,98];
const cloudHigh = [100,100,100,100, 100,100,100,100, 89,63,63.5,52, 62,86.4,100,100, 100,100,100,100, 100,100,100,100, 100,100,100,100, 100,100,100,100, 100,100,100,100, 100,100,100,100, 100,100,100,100, 100,100,100,100, 100,100,100,100, 100,100,100,100, 100,100,100,100];
const cloudLow = [null,null,null,null, null,98.7,92,83, 43,17,24.6,21, 24.6,37,62.6,97, 98,94,95,80, 98,93,98,94.5, 99.5,97.7,100,99, 92.5,85.5,54.5,17, 32,47.5,26.5,39, 72,31,66.5,67, 52,61.5,41,43, 64,80,86.5,82, 77.5,55.5,51,78, 83.5,56,70.5,76, 77,72,68.5,71];
const cloudMedian = [100,100,100,100, 100,100,98.3,94.6, 69.5,38,47,36, 37,64.7,96,100, 100,99,99,99, 100,100,100,100, 100,100,100,100, 99,99,98,98.5, 98,98,96,100, 98,98,98,98, 97,97,84,93, 95,99,97,98, 94,93,98,98, 95,97,97,97, 94,93,96,96];

// CHART SETUP

Chart.defaults.font.family = '"Liberation Sans", Arial, sans-serif';
Chart.defaults.color = "#000";

const frame = {
  id: "frame",
  afterDraw(chart) {
    const a = chart.chartArea, ctx = chart.ctx;
    ctx.save();
    ctx.strokeStyle = "#000";
    ctx.lineWidth = 1;
    ctx.strokeRect(a.left + 0.5, a.top + 0.5, a.right - a.left - 1, a.bottom - a.top);
    ctx.restore();
  }
};

// horizontal reference line, drawn once the members are done
const refLine = {
  id: "refLine",
  afterDatasetDraw(chart, args, opts) {
    if (opts.value == null || args.index !== opts.afterIndex) return;
    const y = chart.scales.y.getPixelForValue(opts.value);
    const a = chart.chartArea, ctx = chart.ctx;
    ctx.save();
    ctx.beginPath();
    ctx.strokeStyle = opts.color;
    ctx.lineWidth = opts.width;
    ctx.setLineDash(opts.dash || []);
    ctx.moveTo(a.left, y);
    ctx.lineTo(a.right, y);
    ctx.stroke();
    ctx.restore();
  }
};

Chart.register(frame, refLine);

function series(vals, t0) {
  return vals.map((v, i) => ({ x: t0 + i * stepH, y: v }));
}

function hourTicks(scale) {
  const t = [];
  for (let h = Math.ceil(scale.min / stepH) * stepH; h <= scale.max; h += stepH) t.push({ value: h });
  scale.ticks = t;
}

function xAxis(min, max) {
  return {
    type: "linear", min: min, max: max,
    afterBuildTicks: hourTicks,
    afterFit: s => { s.height = 19; },
    ticks: {
      autoSkip: false, maxRotation: 0, minRotation: 0, padding: 1,
      font: { size: 12 },
      callback: v => (v % 24 === 0 && dayLabels[v / 24 - 1]) ? dayLabels[v / 24 - 1] : ""
    },
    grid: {
      color: c => (c.tick && c.tick.value % 24 === 0) ? "#585858" : "#d6d6d6",
      tickColor: "#000", tickLength: 4
    },
    border: { color: "#000" }
  };
}

function yAxis(min, max, step) {
  return {
    min: min, max: max,
    afterFit: s => { s.width = 28; },
    ticks: { stepSize: step, padding: 2, font: { size: 12 } },
    grid: { color: "#dcdcdc", tickColor: "#000", tickLength: 5 },
    border: { color: "#000" }
  };
}

function linePanel(id, o) {
  const datasets = [
    { data: series(o.oper, xStart), borderColor: "#cc3333", borderWidth: 3.5 },
    { data: series(o.control, xStart), borderColor: "#3535bd", borderWidth: 3.5 },
    { data: series(o.avg, xStart), borderColor: "#4e0a0a", borderWidth: 3, borderDash: [3, 2] }
  ];
  o.members.forEach(m => {
    datasets.push({ data: series(m, xStart), borderColor: "rgba(50,155,30,0.5)", borderWidth: 1 });
  });

  return new Chart(document.getElementById(id), {
    type: "line",
    data: { datasets: datasets },
    options: {
      responsive: false,
      animation: false,
      events: [],
      layout: { padding: { top: 21, right: 2 } },
      elements: { point: { radius: 0 }, line: { tension: 0, fill: false } },
      scales: { x: xAxis(xStart, xEnd), y: yAxis(o.min, o.max, o.step) },
      plugins: {
        legend: { display: false },
        tooltip: { enabled: false },
        refLine: o.ref || {}
      }
    }
  });
}

linePanel("c1", { oper: tempOper, control: tempControl, avg: tempAvg, members: tempMembers, min: -25, max: 15, step: 5,
  ref: { value: 0, afterIndex: 3, color: "#000", width: 3 } });
linePanel("c2", { oper: dewOper, control: dewControl, avg: dewAvg, members: dewMembers, min: -25, max: 15, step: 5 });
linePanel("c3", { oper: rainOper, control: rainControl, avg: rainAvg, members: rainMembers, min: 0, max: 14, step: 2 });
linePanel("c4", { oper: windOper, control: windControl, avg: windAvg, members: windMembers, min: 0, max: 14, step: 2 });
linePanel("c5", { oper: gustOper, control: gustControl, avg: gustAvg, members: gustMembers, min: 0, max: 26, step: 2,
  ref: { value: gustLimit, afterIndex: 3, color: "#2e5548", width: 2, dash: [2, 3] } });

// cloud cover: bars for the 50% band, dashes for the median
new Chart(document.getElementById("c6"), {
  type: "line",
  data: {
    datasets: [
      { data: series(cloudOper, cloudStart), borderColor: "#cc3333", borderWidth: 2 },
      { data: series(cloudControl, cloudStart), borderColor: "#3535bd", borderWidth: 2 },
      { data: series(cloudMedian, cloudStart), showLine: false, pointStyle: "line", pointRadius: 4,
        pointBorderColor: "#222", pointBorderWidth: 1 },
      { type: "bar",
        data: cloudLow.map((lo, i) => ({ x: cloudStart + i * stepH, y: lo == null ? null : [lo, cloudHigh[i]] })),
        backgroundColor: "#ffffc0", borderColor: "#c4c4b4", borderWidth: 1, borderSkipped: false, barThickness: 9 }
    ]
  },
  options: {
    responsive: false,
    animation: false,
    events: [],
    layout: { padding: { top: 21, right: 2 } },
    elements: { point: { radius: 0 }, line: { tension: 0, fill: false } },
    scales: { x: xAxis(cloudStart, cloudEnd), y: yAxis(0, 100, 10) },
    plugins: { legend: { display: false }, tooltip: { enabled: false } }
  }
});

// HEADERS

function add(parent, cls, css, text) {
  const el = document.createElement("div");
  el.className = cls;
  Object.assign(el.style, css);
  if (text) el.textContent = text;
  parent.appendChild(el);
  return el;
}

function header(panelId, title, cloud) {
  const p = document.getElementById(panelId);
  if (!cloud) {
    add(p, "sw", { left: "28px", top: "12px", width: "16px", height: "3px", background: "#cc3333" });
    add(p, "lt", { left: "47px" }, "Oper");
    add(p, "sw", { left: "96px", top: "12px", width: "16px", height: "3px", background: "#3535bd" });
    add(p, "lt", { left: "115px" }, "Control");
    add(p, "sw", { left: "175px", top: "13px", width: "16px", height: "1px", background: "#9fd08f" });
    add(p, "lt", { left: "193px" }, "Members");
    add(p, "sw", { left: "262px", top: "12px", width: "16px", height: "3px",
      background: "repeating-linear-gradient(90deg,#4e0a0a 0 3px,transparent 3px 5px)" });
    add(p, "lt", { left: "281px" }, "Average");
  } else {
    add(p, "sw", { left: "28px", top: "9px", width: "7px", height: "7px", background: "#cc3333", border: "1px solid #7a1a1a" });
    add(p, "lt", { left: "39px" }, "oper");
    add(p, "sw", { left: "86px", top: "9px", width: "7px", height: "7px", background: "#3535bd", border: "1px solid #1a1a6a" });
    add(p, "lt", { left: "97px" }, "control");
    add(p, "sw", { left: "155px", top: "9px", width: "7px", height: "7px", background: "#ffffc0", border: "1px solid #777" });
    add(p, "lt", { left: "166px" }, "50%");
    add(p, "sw", { left: "213px", top: "9px", width: "7px", height: "7px", background: "#000", border: "1px solid #000" });
    add(p, "lt", { left: "224px" }, "median");
  }
  add(p, "title", {}, title);
  const src = add(p, "src", {});
  src.innerHTML = "Infoplaza.nl - regio midden<br>Gemaakt: do 23 dec 10:00";
}

header("p1", "Temperatuur 2m");
header("p2", "Dauwpunt 2m");
header("p3", "Neerslag");
header("p4", "10m wind");
header("p5", "10m windstoten");
header("p6", "Bedekkingsgraad", true);
</script>
</body>
</html>
